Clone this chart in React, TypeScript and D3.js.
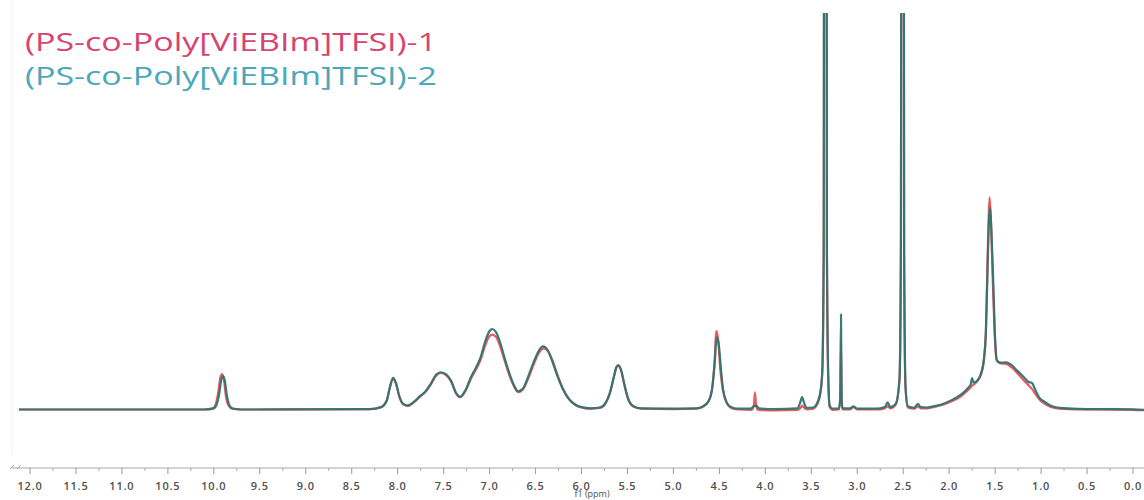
import React from "react";
import * as d3 from "d3";

// ---- data (ppm, intensity) ----
const legendLabels = ["(PS-co-Poly[ViEBIm]TFSI)-1", "(PS-co-Poly[ViEBIm]TFSI)-2"];
const tickValues = [12.0, 11.5, 11.0, 10.5, 10.0, 9.5, 9.0, 8.5, 8.0, 7.5, 7.0, 6.5, 6.0, 5.5, 5.0, 4.5, 4.0, 3.5, 3.0, 2.5, 2.0, 1.5, 1.0, 0.5, 0.0];
const axisTitle = "f1 (ppm)";

const spectrum1: [number, number][] = [
  [12.12, 0], [10.1, 0], [10.01, 0.3], [9.98, 1.3], [9.95, 4.6], [9.93, 8.0], [9.91, 8.9], [9.89, 7.4], [9.87, 3.6], [9.84, 1.0], [9.8, 0.2], [9.7, 0],
  [8.3, 0.1], [8.18, 0.6], [8.12, 2.2], [8.08, 6.0], [8.05, 7.8], [8.02, 6.6], [7.98, 3.1], [7.94, 1.3], [7.89, 0.9], [7.82, 1.9], [7.76, 3.2], [7.7, 4.4],
  [7.64, 6.3], [7.58, 8.6], [7.53, 9.2], [7.47, 8.6], [7.42, 7.1], [7.36, 3.9], [7.32, 3.1], [7.26, 4.8], [7.2, 7.9], [7.15, 10.0], [7.1, 12.4],
  [7.05, 16.0], [7.0, 18.5], [6.97, 18.9], [6.93, 18.3], [6.88, 15.6], [6.84, 12.6], [6.79, 9.0], [6.74, 6.1], [6.69, 4.4], [6.64, 5.0], [6.58, 7.8],
  [6.52, 11.4], [6.46, 14.4], [6.41, 15.4], [6.36, 14.6], [6.31, 12.0], [6.26, 8.6], [6.2, 5.2], [6.14, 2.8], [6.07, 1.2], [6.0, 0.5], [5.9, 0.2],
  [5.8, 0.4], [5.74, 1.5], [5.69, 4.2], [5.65, 8.0], [5.62, 10.8], [5.6, 11.2], [5.57, 9.9], [5.53, 5.8], [5.49, 2.4], [5.44, 0.8], [5.35, 0.2],
  [5.0, 0.1], [4.75, 0.2], [4.68, 0.7], [4.62, 2.0], [4.58, 5.2], [4.55, 13.0], [4.535, 19.8], [4.515, 18.0], [4.49, 10.0], [4.46, 4.8], [4.42, 1.6],
  [4.38, 0.5], [4.3, 0.0], [4.15, -0.1], [4.125, 1.0], [4.113, 4.3], [4.1, 1.0], [4.08, -0.1], [3.9, -0.2], [3.65, -0.1], [3.61, 0.6], [3.6, 1.0],
  [3.58, 0.5], [3.55, 0.0], [3.48, 0.2], [3.43, 1.6], [3.4, 4.2], [3.38, 9.5], [3.365, 40], [3.355, 320], [3.34, 320], [3.33, 40], [3.315, 7],
  [3.3, 0.6], [3.27, -0.1], [3.2, 0.0], [3.185, 2.5], [3.177, 17], [3.17, 2.5], [3.16, 0.0], [3.08, 0.0], [3.04, 0.6], [3.0, 0.0], [2.8, 0.0],
  [2.7, 0.3], [2.67, 0.8], [2.64, 0.3], [2.58, 1.3], [2.54, 7.5], [2.525, 40], [2.515, 320], [2.5, 320], [2.49, 40], [2.475, 5.5], [2.45, 0.5],
  [2.38, 0.2], [2.34, 0.8], [2.31, 0.3], [2.24, 0.3], [2.15, 0.7], [2.07, 1.2], [1.98, 2.0], [1.88, 3.2], [1.8, 4.8], [1.75, 6.0], [1.7, 7.0],
  [1.65, 9.0], [1.62, 13], [1.6, 20], [1.585, 35], [1.57, 49], [1.56, 53.5], [1.545, 47], [1.525, 32], [1.505, 19], [1.485, 12.6], [1.44, 11.6],
  [1.38, 11.5], [1.32, 10.6], [1.26, 9.2], [1.19, 7.4], [1.14, 6.2], [1.1, 5.2], [1.06, 3.9], [1.02, 2.6], [0.96, 1.4], [0.9, 0.7], [0.8, 0.2],
  [0.6, 0.0], [0.4, 0.0], [0.0, -0.1], [-0.13, -0.2],
];

const spectrum2: [number, number][] = [
  [12.12, 0], [10.1, 0], [10.0, 0.3], [9.97, 1.2], [9.94, 4.2], [9.92, 7.4], [9.9, 8.4], [9.88, 7.2], [9.86, 3.8], [9.83, 1.0], [9.79, 0.2], [9.7, 0],
  [8.3, 0.1], [8.18, 0.6], [8.12, 2.2], [8.08, 6.0], [8.05, 8.0], [8.02, 6.8], [7.98, 3.2], [7.94, 1.4], [7.89, 1.0], [7.82, 2.0], [7.76, 3.3], [7.7, 4.5],
  [7.64, 6.5], [7.58, 8.8], [7.53, 9.4], [7.47, 8.8], [7.42, 7.3], [7.36, 4.0], [7.32, 3.2], [7.26, 5.0], [7.2, 8.3], [7.15, 10.5], [7.1, 13.0],
  [7.05, 17.0], [7.0, 19.8], [6.97, 20.3], [6.93, 19.5], [6.88, 16.5], [6.84, 13.3], [6.79, 9.5], [6.74, 6.4], [6.69, 4.6], [6.64, 5.2], [6.58, 8.3],
  [6.52, 12.0], [6.46, 15.0], [6.42, 15.9], [6.37, 15.0], [6.32, 12.3], [6.27, 9.0], [6.21, 5.5], [6.15, 3.0], [6.08, 1.4], [6.0, 0.6], [5.9, 0.3],
  [5.8, 0.5], [5.74, 1.6], [5.69, 4.3], [5.65, 8.0], [5.62, 10.6], [5.6, 11.1], [5.57, 10.0], [5.53, 6.0], [5.49, 2.6], [5.44, 0.9], [5.35, 0.3],
  [5.0, 0.2], [4.75, 0.3], [4.68, 0.8], [4.62, 2.0], [4.58, 5.0], [4.55, 12.0], [4.53, 18.2], [4.51, 17.0], [4.48, 9.5], [4.46, 5.0], [4.42, 1.8],
  [4.38, 0.7], [4.3, 0.2], [4.16, 0.2], [4.12, 0.9], [4.1, 1.0], [4.07, 0.3], [3.9, 0.1], [3.65, 0.3], [3.62, 1.8], [3.6, 3.1], [3.58, 1.8],
  [3.55, 0.4], [3.48, 0.5], [3.43, 2.0], [3.4, 4.6], [3.38, 10], [3.365, 40], [3.355, 320], [3.34, 320], [3.33, 40], [3.315, 8], [3.3, 1.0],
  [3.27, 0.2], [3.2, 0.3], [3.185, 3], [3.177, 24], [3.17, 3], [3.16, 0.3], [3.08, 0.3], [3.04, 0.8], [3.0, 0.2], [2.8, 0.2], [2.7, 0.6],
  [2.67, 1.8], [2.64, 0.6], [2.58, 1.5], [2.54, 8], [2.525, 40], [2.515, 320], [2.5, 320], [2.49, 40], [2.475, 6], [2.45, 0.8], [2.38, 0.4],
  [2.34, 1.4], [2.31, 0.6], [2.24, 0.5], [2.15, 0.9], [2.07, 1.4], [1.98, 2.3], [1.88, 3.6], [1.8, 5.3], [1.765, 6.4], [1.75, 7.9], [1.735, 6.8],
  [1.69, 7.4], [1.65, 9.4], [1.62, 13], [1.6, 20], [1.585, 33], [1.57, 46], [1.555, 51], [1.54, 45], [1.52, 32], [1.5, 18], [1.48, 12.3],
  [1.44, 11.8], [1.38, 11.9], [1.32, 11.2], [1.26, 9.8], [1.19, 8.2], [1.14, 7.0], [1.1, 6.7], [1.06, 4.8], [1.02, 3.0], [0.96, 1.9], [0.9, 1.0],
  [0.8, 0.4], [0.6, 0.15], [0.4, 0.1], [0.0, 0.05], [-0.13, -0.1],
];

const colors = { s1Line: "#ee5a5c", s2Line: "#2f7471", s1Text: "#d6456f", s2Text: "#4ba8b8" };

export default function App() {
  const W = 1144;
  const H = 500;
  const x = d3.scaleLinear().domain([12.0, 0.0]).range([30, 1133]);
  const y = d3.scaleLinear().domain([0, 100]).range([409.5, 13]);
  const line = d3
    .line<[number, number]>()
    .x((d) => x(d[0]))
    .y((d) => y(d[1]))
    .curve(d3.curveMonotoneX);

  const axisY = 468;
  const minorTicks = d3.range(0, 49).map((i) => 12.0 - i * 0.25).filter((v) => Math.abs((v * 2) % 1) > 0.01);
  const xStart = x(12.2);
  const xEnd = x(-0.13);

  return (
    <svg
      width={W}
      height={H}
      style={{ position: "absolute", left: 0, top: 0, background: "#fff" }}
      fontFamily="'Open Sans', 'Noto Sans', sans-serif"
    >
      <defs>
        <clipPath id="plotClip">
          <rect x={0} y={13} width={W} height={460} />
        </clipPath>
      </defs>
      <rect x={0} y={0} width={W} height={H} fill="#fff" />
      <line x1={12} x2={12} y1={0} y2={455} stroke="#f1f1f1" strokeWidth={1} />

      <g clipPath="url(#plotClip)">
        <path d={line(spectrum1) || ""} fill="none" stroke={colors.s1Line} strokeWidth={2.2} strokeLinejoin="round" />
        <path d={line(spectrum2) || ""} fill="none" stroke={colors.s2Line} strokeWidth={2.2} strokeLinejoin="round" opacity={0.95} />
      </g>

      {/* axis */}
      <g>
        <path d={`M10,469 L14,465 M17,469 L21,465`} stroke="#aaa" strokeWidth={1} fill="none" />
        <line x1={xStart} x2={xEnd} y1={axisY} y2={axisY} stroke="#a8a8a8" strokeWidth={1} />
        {tickValues.map((t) => (
          <line key={"M" + t} x1={x(t)} x2={x(t)} y1={axisY} y2={axisY + 6} stroke="#999" strokeWidth={1} />
        ))}
        {minorTicks.map((t) => (
          <line key={"m" + t} x1={x(t)} x2={x(t)} y1={axisY} y2={axisY + 3} stroke="#aaa" strokeWidth={1} />
        ))}
        {tickValues.map((t) => (
          <text
            key={"L" + t}
            x={x(t)}
            y={490}
            textAnchor="middle"
            fontSize={11}
            letterSpacing={0.8}
            fill="#505050"
            fontWeight={600}
          >
            {t.toFixed(1)}
          </text>
        ))}
        <text x={592} y={497} textAnchor="middle" fontSize={9} fill="#505050">
          {axisTitle}
        </text>
      </g>

      {/* legend */}
      <text x={25} y={51} fontSize={25} fill={colors.s1Text} textLength={412} lengthAdjust="spacingAndGlyphs">
        {legendLabels[0]}
      </text>
      <text x={25} y={85} fontSize={25} fill={colors.s2Text} textLength={412} lengthAdjust="spacingAndGlyphs">
        {legendLabels[1]}
      </text>
    </svg>
  );
}
